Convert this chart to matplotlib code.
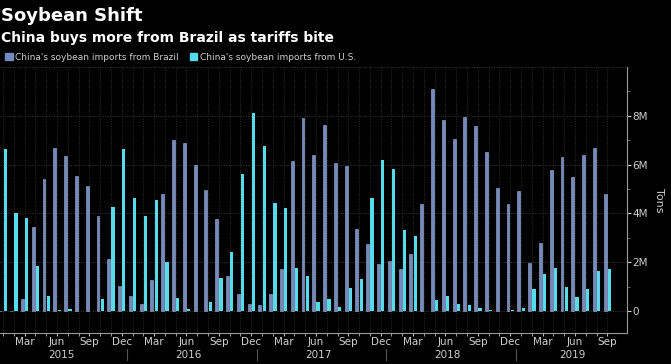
import matplotlib.pyplot as plt
import matplotlib.transforms as mtransforms
from matplotlib.patches import Patch
import numpy as np

# monthly imports, million tons, Jan 2015 - Sep 2019
brazil = [0.0, 0.0, 0.49, 3.44, 5.42, 6.67, 6.37, 5.52, 5.12, 3.88, 2.13, 1.01,
          0.61, 0.27, 1.26, 4.81, 6.99, 6.87, 5.98, 4.95, 3.76, 1.43, 0.72, 0.31,
          0.25, 0.68, 1.73, 6.13, 7.92, 6.41, 7.62, 6.07, 5.93, 3.36, 2.75, 1.94,
          2.05, 1.72, 2.34, 4.40, 9.11, 7.83, 7.03, 7.95, 7.58, 6.53, 5.05, 4.37,
          4.92, 1.98, 2.79, 5.77, 6.30, 5.49, 6.41, 6.68, 4.78]
us = [6.64, 4.00, 3.80, 1.86, 0.61, 0.04, 0.07, 0.01, 0.01, 0.49, 4.26, 6.64,
      4.64, 3.89, 4.55, 2.01, 0.55, 0.08, 0.01, 0.36, 1.35, 2.42, 5.60, 8.11,
      6.78, 4.41, 4.21, 1.78, 1.45, 0.38, 0.49, 0.16, 0.93, 1.31, 4.64, 6.17,
      5.82, 3.33, 3.09, 0.02, 0.46, 0.60, 0.29, 0.26, 0.12, 0.05, 0.01, 0.05,
      0.12, 0.90, 1.50, 1.75, 0.97, 0.59, 0.90, 1.65, 1.71]
years = ["2015", "2016", "2017", "2018", "2019"]
month_names = ["Mar", "Jun", "Sep", "Dec"]

bg = "black"
c_br = "#7489bd"
c_us = "#56dbea"
txt = "#cfcfcf"

fig = plt.figure(figsize=(6.71, 3.64), dpi=100, facecolor=bg)
ax = fig.add_axes([0.0, 0.085, 0.934, 0.731], facecolor=bg)

x = np.arange(len(brazil))
ax.bar(x - 0.2, brazil, width=0.27, color=c_br, edgecolor="#9fb0d8", linewidth=0.4, zorder=3)
ax.bar(x + 0.2, us, width=0.3, color=c_us, linewidth=0, zorder=3)

ax.set_xlim(-0.28, 57.8)
ax.set_ylim(-0.9, 10)

# grid
for v in range(0, 11, 2):
    ax.axhline(v, color="#3a3a3a", lw=0.7, ls=(0, (1, 1.5)), zorder=1)
for i in x:
    ax.axvline(i, color="#2e2e2e", lw=0.7, ls=(0, (1, 1.5)), zorder=1)

for s in ["left", "top"]:
    ax.spines[s].set_visible(False)
ax.spines["bottom"].set_color("#9a9a9a")
ax.spines["right"].set_color("#9a9a9a")

ax.yaxis.tick_right()
ax.set_yticks([0, 2, 4, 6, 8])
ax.set_yticklabels(["0", "2M", "4M", "6M", "8M"])
ax.set_yticks(np.arange(1, 10, 2), minor=True)
ax.tick_params(axis="y", which="both", colors=txt, labelsize=7.5, length=3, pad=1)
ax.tick_params(axis="y", which="minor", length=2, color="#777777")
ax.yaxis.set_label_position("right")
ax.set_ylabel("Tons", color=txt, fontsize=8, rotation=270, labelpad=12)

ticks = [i for i in x if i % 3 == 2]
ax.set_xticks(ticks)
ax.set_xticklabels([month_names[(i % 12) // 3] for i in ticks])
ax.set_xticks(x, minor=True)
ax.tick_params(axis="x", which="both", colors="#bbbbbb", labelsize=7.5, length=2, pad=1)
ax.tick_params(axis="x", which="major", labelcolor=txt)

tr = mtransforms.blended_transform_factory(ax.transData, ax.transAxes)
centers = [5.4, 17.2, 29.2, 41.2, 52.8]
for yr, c in zip(years, centers):
    ax.text(c, -0.083, yr, transform=tr, color=txt, fontsize=7.5, ha="center", va="center")
for b in [11.5, 23.5, 35.5, 47.5]:
    ax.plot([b, b], [-0.06, -0.1], transform=tr, color="#555555", lw=0.8, clip_on=False)

fig.text(0.002, 0.955, "Soybean Shift", color="white", fontsize=13, fontweight="bold", va="center")
fig.text(0.002, 0.895, "China buys more from Brazil as tariffs bite", color="white",
         fontsize=10, fontweight="bold", va="center")

handles = [Patch(color=c_br, label="China's soybean imports from Brazil"),
           Patch(color=c_us, label="China's soybean imports from U.S.")]
fig.legend(handles=handles, loc="center left", bbox_to_anchor=(0.008, 0.843), ncol=2,
           frameon=False, fontsize=6.5, labelcolor=txt, handlelength=0.8, handleheight=0.8,
           handletextpad=0.3, columnspacing=1.2, borderaxespad=0, borderpad=0)

fig.savefig("out.png", dpi=100, facecolor=bg)
